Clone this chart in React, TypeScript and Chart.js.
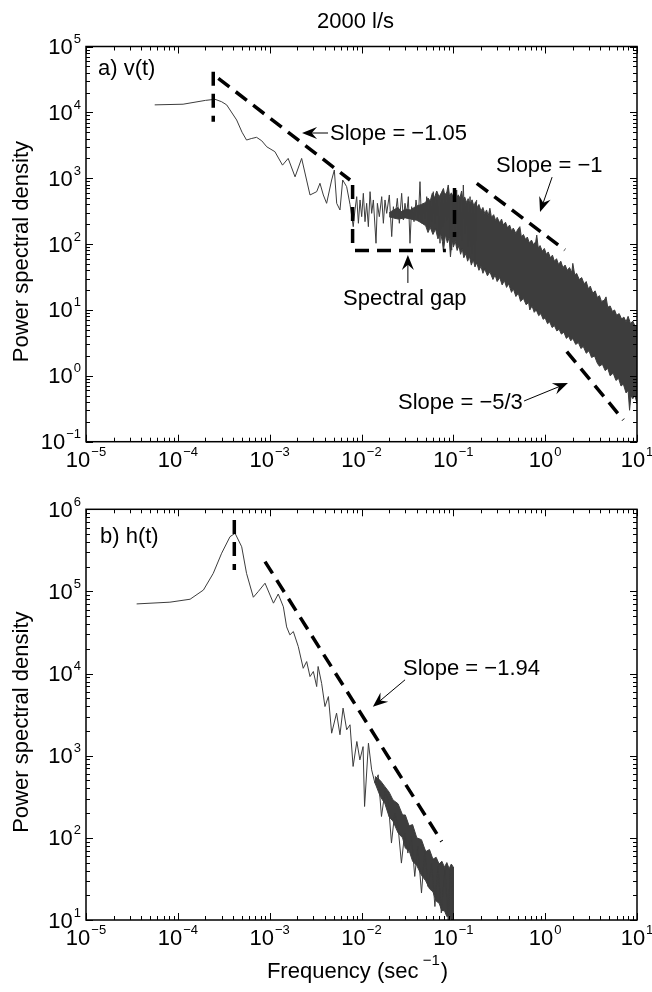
import React, { useEffect, useRef } from "react";
import { Chart, registerables } from "chart.js";

Chart.register(...registerables);

const FONT = "'Liberation Sans', Arial, Helvetica, sans-serif";

// ---------------- tick exponents ----------------
const freqTickExps = [-5, -4, -3, -2, -1, 0, 1];
const vPsdTickExps = [-1, 0, 1, 2, 3, 4, 5];
const hPsdTickExps = [1, 2, 3, 4, 5, 6];

// ---------------- panel a) v(t) ----------------
const vLowFreq = [5.6e-5, 1.14e-4, 1.5e-4, 2.0e-4, 2.54e-4, 3.0e-4, 3.4e-4, 4.37e-4, 5.0e-4, 5.6e-4, 6.3e-4, 7.2e-4, 8.2e-4, 9.3e-4, 1.14e-3, 1.38e-3, 1.59e-3, 1.89e-3, 2.23e-3, 2.75e-3, 3.25e-3, 3.53e-3, 3.84e-3, 4.17e-3, 4.73e-3, 5.06e-3, 5.37e-3, 5.83e-3, 6.24e-3, 6.89e-3, 7.5e-3, 8.13e-3];
const vLowPsd = [1.3e4, 1.33e4, 1.42e4, 1.52e4, 1.58e4, 1.45e4, 1.3e4, 7.66e3, 5.0e3, 3.8e3, 4.0e3, 4.18e3, 3.7e3, 3.0e3, 2.53e3, 1.58e3, 2.0e3, 1.05e3, 2.0e3, 557, 625, 838, 557, 416, 940, 1333, 416, 330, 940, 745, 400, 184];

const vMidFreq = [0.00849, 0.00887, 0.00925, 0.00964, 0.01005, 0.01047, 0.01092, 0.01138, 0.01188, 0.01239, 0.01291, 0.01346, 0.01439, 0.01489, 0.01564, 0.0166, 0.0173, 0.01803, 0.0188, 0.0201, 0.02133, 0.02223, 0.02317, 0.02455, 0.02582, 0.02737, 0.02855, 0.02976, 0.03103, 0.03236, 0.03373, 0.03516, 0.03732, 0.03924, 0.04159, 0.04335, 0.04519, 0.0471, 0.0492, 0.0513, 0.0535, 0.0557, 0.0581, 0.0605, 0.0631, 0.0659, 0.0687, 0.0716, 0.0746, 0.0778, 0.0811, 0.0846, 0.0882, 0.092, 0.096, 0.1, 0.1042, 0.1087, 0.1134, 0.1183, 0.1233, 0.1285, 0.134, 0.1396, 0.1456, 0.152, 0.1585, 0.165, 0.172, 0.1795];
const vMidPsd = [330, 525, 207, 468, 261, 590, 219, 416, 184, 625, 293, 468, 103, 416, 261, 525, 207, 468, 293, 557, 130, 370, 246, 495, 207, 590, 232, 416, 277, 525, 103, 370, 219, 468, 246, 887, 207, 416, 246, 525, 184, 441, 219, 625, 207, 468, 293, 103, 495, 184, 590, 232, 703, 164, 81, 525, 146, 663, 130, 468, 115, 789, 146, 416, 91, 525, 72, 370, 57, 468];

const vBandUpperFreq = [0.02, 0.025, 0.027, 0.03, 0.034, 0.04, 0.045, 0.05, 0.053, 0.056, 0.059, 0.062, 0.066, 0.07, 0.074, 0.078, 0.081, 0.085, 0.088, 0.091, 0.095, 0.1, 0.104, 0.108, 0.113, 0.118, 0.123, 0.127, 0.133, 0.139, 0.145, 0.152, 0.16, 0.167, 0.175, 0.183, 0.19, 0.2, 0.21, 0.22, 0.23, 0.24, 0.25, 0.26, 0.275, 0.29, 0.3, 0.32, 0.335, 0.35, 0.37, 0.39, 0.41, 0.43, 0.45, 0.48, 0.5, 0.53, 0.55, 0.58, 0.61, 0.64, 0.67, 0.71, 0.75, 0.79, 0.81, 0.84, 0.88, 0.93, 0.98, 1.03, 1.08, 1.14, 1.2, 1.26, 1.33, 1.4, 1.48, 1.56, 1.65, 1.74, 1.84, 1.95, 2.0, 2.1, 2.2, 2.35, 2.5, 2.65, 2.8, 2.95, 3.1, 3.3, 3.5, 3.7, 3.9, 4.1, 4.4, 4.6, 4.8, 5.1, 5.4, 5.7, 6.0, 6.4, 6.8, 7.2, 7.6, 8.0, 8.5, 9.0, 9.5, 10];
const vBandUpperPsd = [300, 360, 310, 340, 330, 380, 400, 430, 500, 450, 590, 500, 640, 520, 600, 700, 540, 620, 790, 530, 600, 520, 610, 480, 560, 500, 640, 470, 520, 430, 490, 410, 470, 380, 440, 360, 400, 320, 360, 290, 330, 270, 350, 255, 280, 225, 255, 210, 240, 195, 215, 175, 195, 160, 175, 145, 165, 184, 130, 140, 118, 128, 105, 115, 97, 110, 137, 88, 95, 78, 86, 70, 76, 62, 68, 55, 60, 49, 55, 44, 48, 40, 44, 37, 51, 34, 36, 29, 31, 25, 27, 21, 23, 18, 19.5, 15.5, 16.5, 13.5, 14, 15.8, 11, 11.5, 9.5, 10, 8.3, 8.8, 7.3, 7.8, 6.6, 8, 6.2, 6.8, 5.7, 5.8];
const vBandLowerFreq = [0.02, 0.025, 0.03, 0.04, 0.045, 0.05, 0.053, 0.056, 0.06, 0.064, 0.068, 0.072, 0.076, 0.078, 0.082, 0.086, 0.09, 0.093, 0.097, 0.1, 0.105, 0.11, 0.115, 0.12, 0.125, 0.13, 0.137, 0.143, 0.15, 0.157, 0.165, 0.172, 0.18, 0.19, 0.2, 0.21, 0.22, 0.235, 0.25, 0.27, 0.285, 0.3, 0.32, 0.34, 0.36, 0.38, 0.4, 0.43, 0.45, 0.48, 0.51, 0.54, 0.58, 0.62, 0.66, 0.68, 0.72, 0.76, 0.8, 0.85, 0.9, 0.95, 1.0, 1.06, 1.12, 1.19, 1.26, 1.34, 1.42, 1.5, 1.6, 1.7, 1.8, 1.9, 2.0, 2.15, 2.3, 2.45, 2.6, 2.8, 3.0, 3.2, 3.45, 3.7, 3.9, 4.2, 4.5, 4.8, 5.1, 5.5, 5.9, 6.3, 6.7, 7.1, 7.6, 8.0, 8.3, 8.6, 9.0, 9.5, 10];
const vBandLowerPsd = [260, 240, 250, 230, 210, 190, 150, 180, 140, 170, 120, 150, 110, 77, 140, 105, 125, 64, 120, 90, 110, 80, 95, 70, 85, 62, 72, 55, 65, 48, 58, 45, 52, 40, 46, 36, 42, 33, 38, 29, 34, 27, 31, 24, 28, 22, 25, 18.5, 21, 16, 18, 13.5, 15, 12, 13, 10, 11.5, 9.2, 10, 8.2, 8.8, 7.2, 7.6, 6.2, 6.6, 5.4, 5.8, 4.8, 5.1, 4.3, 4.6, 3.7, 4.0, 3.4, 3.7, 3.0, 3.2, 2.6, 2.8, 2.2, 2.4, 1.9, 2.0, 1.55, 1.4, 1.5, 1.2, 1.3, 1.0, 1.1, 0.85, 0.92, 0.7, 0.75, 0.55, 0.6, 0.3, 0.5, 0.45, 0.5, 0.38];

const vPeakMarkFreq = [2.43e-4, 2.43e-4];
const vPeakMarkPsd = [4.14e4, 7.2e3];
const vSlope105Freq = [2.76e-4, 7.5e-3];
const vSlope105Psd = [3.29e4, 940];
const vGapLeftFreq = [8.0e-3, 8.0e-3];
const vGapLeftPsd = [789, 100];
const vGapBaseFreq = [8.5e-3, 0.083];
const vGapBasePsd = [80, 80];
const vGapRightFreq = [0.103, 0.103];
const vGapRightPsd = [711, 128];
const vSlope1Freq = [0.18, 1.64];
const vSlope1Psd = [838, 81.5];
const vSlope53Freq = [1.72, 7.1];
const vSlope53Psd = [2.33, 0.214];

// ---------------- panel b) h(t) ----------------
const hLowFreq = [3.56e-5, 8.2e-5, 1.36e-4, 1.9e-4, 2.43e-4, 3.0e-4, 3.7e-4, 4.2e-4, 4.96e-4, 5.6e-4, 6.64e-4, 7.5e-4, 8.9e-4, 1.1e-3, 1.24e-3, 1.41e-3, 1.53e-3, 1.66e-3, 1.81e-3, 2.05e-3, 2.32e-3, 2.53e-3, 2.75e-3, 2.99e-3, 3.25e-3, 3.37e-3, 3.68e-3, 4.0e-3, 4.36e-3];
const hLowPsd = [7.05e4, 7.4e4, 8.04e4, 1.04e5, 1.66e5, 2.92e5, 4.64e5, 5.1e5, 3.5e5, 1.66e5, 8.5e4, 9.95e4, 1.26e5, 7.2e4, 9.3e4, 6.5e4, 3.7e4, 2.96e4, 3.25e4, 2.13e4, 1.16e4, 1.4e4, 9.2e3, 1.06e4, 6.95e3, 1.22e4, 7.6e3, 3.97e3, 5.25e3];
const hHighFreq = [4.73e-3, 5.35e-3, 5.83e-3, 6.3e-3, 6.9e-3, 7.5e-3, 8.1e-3, 8.9e-3, 9.6e-3, 1.04e-2, 1.08e-2, 1.19e-2, 1.29e-2, 1.4e-2, 1.52e-2, 1.65e-2, 1.8e-2, 1.95e-2, 2.12e-2, 2.3e-2, 2.5e-2, 2.72e-2, 2.95e-2, 3.2e-2, 3.5e-2, 3.8e-2, 4.1e-2, 4.5e-2, 4.9e-2, 5.3e-2, 5.8e-2, 6.3e-2, 6.8e-2, 7.4e-2, 8.1e-2, 8.8e-2, 9.3e-2, 9.8e-2, 0.1];
const hHighPsd = [1.88e3, 3.3e3, 1.8e3, 3.8e3, 2.07e3, 2.38e3, 740, 1.49e3, 890, 1.29e3, 241, 1.42e3, 673, 464, 586, 182, 366, 290, 86.5, 200, 138, 49.3, 114, 65.3, 104, 33.9, 78.5, 21.3, 71.6, 25.6, 49.3, 14.6, 44.9, 12.2, 40.9, 10, 44.9, 17.7, 10];
const hBandFreq = [0.014, 0.016, 0.018, 0.02, 0.022, 0.025, 0.028, 0.03, 0.033, 0.036, 0.04, 0.045, 0.05, 0.055, 0.06, 0.065, 0.07, 0.075, 0.08, 0.085, 0.09, 0.095, 0.1];
const hBandUpperPsd = [560, 500, 420, 360, 290, 260, 190, 190, 140, 145, 100, 95, 68, 72, 55, 58, 48, 52, 44, 50, 42, 48, 44];
const hBandLowerPsd = [470, 320, 260, 180, 160, 115, 100, 75, 70, 52, 46, 35, 30, 24, 22, 17, 16, 13, 13, 11, 11.5, 10, 10];

const hPeakMarkFreq = [4.12e-4, 4.12e-4];
const hPeakMarkPsd = [7.4e5, 1.83e5];
const hSlope194Freq = [8.9e-4, 0.0746];
const hSlope194Psd = [2.31e5, 90.4];

// ---------------- annotations (data coordinates) ----------------
type Note = { text: string; f: number; p: number; arrow?: [number, number, number, number] };
const vNotes: Note[] = [
  { text: "a) v(t)", f: 1.35e-5, p: 3.69e4 },
  { text: "Slope = \u22121.05", f: 4.54e-3, p: 3.8e3, arrow: [4.32e-3, 4.86e3, 2.25e-3, 4.86e3] },
  { text: "Slope = \u22121", f: 0.292, p: 1.24e3, arrow: [1.19, 1.04e3, 0.879, 307] },
  { text: "Spectral gap", f: 6.3e-3, p: 11.9, arrow: [0.032, 25.7, 0.032, 68.4] },
  { text: "Slope = \u22125/3", f: 0.025, p: 0.314, arrow: [0.589, 0.415, 1.77, 0.778] },
];
const hNotes: Note[] = [
  { text: "b) h(t)", f: 1.42e-5, p: 3.89e5 },
  { text: "Slope = \u22121.94", f: 0.0283, p: 9.6e3, arrow: [0.0298, 8.4e3, 0.0133, 3.94e3] },
];

// ---------------- helpers ----------------
type XY = { x: number; y: number };
const pts = (f: number[], p: number[]): XY[] => f.map((v, i) => ({ x: v, y: p[i] }));
const shape = (uf: number[], up: number[], lf: number[], lp: number[]): XY[] => [
  ...pts(uf, up),
  ...pts(lf, lp).reverse(),
];

const CURVE = "#3c3c3c";
const BAND = "#3d3d3d";

const curve = (data: XY[]) => ({
  data, showLine: true, borderColor: CURVE, borderWidth: 1, pointRadius: 0,
  fill: false, borderJoinStyle: "bevel", tension: 0,
});
const band = (data: XY[]) => ({
  data, showLine: true, borderColor: BAND, backgroundColor: BAND, borderWidth: 1,
  pointRadius: 0, fill: "shape", borderJoinStyle: "bevel", tension: 0,
});
const dashed = (data: XY[]) => ({
  data, showLine: true, borderColor: "#000", borderWidth: 3.5, borderDash: [14, 8],
  pointRadius: 0, fill: false, borderCapStyle: "butt", tension: 0,
});

function drawPow(ctx: CanvasRenderingContext2D, x: number, y: number, exp: number, align: "center" | "right") {
  const sup = exp < 0 ? "\u2212" + -exp : String(exp);
  ctx.font = `22px ${FONT}`;
  const wb = ctx.measureText("10").width;
  ctx.font = `13px ${FONT}`;
  const ws = ctx.measureText(sup).width;
  const total = wb + 1 + ws;
  const x0 = align === "center" ? x - total / 2 : x - total;
  ctx.textAlign = "left";
  ctx.textBaseline = "alphabetic";
  ctx.font = `22px ${FONT}`;
  ctx.fillText("10", x0, y);
  ctx.font = `13px ${FONT}`;
  ctx.fillText(sup, x0 + wb + 1, y - 11);
}

function drawArrow(ctx: CanvasRenderingContext2D, x1: number, y1: number, x2: number, y2: number) {
  const dx = x2 - x1, dy = y2 - y1;
  const L = Math.hypot(dx, dy) || 1;
  const ux = dx / L, uy = dy / L, nx = -uy, ny = ux;
  const hl = 15, hw = 6;
  ctx.lineWidth = 1;
  ctx.beginPath();
  ctx.moveTo(x1, y1);
  ctx.lineTo(x2 - ux * hl * 0.6, y2 - uy * hl * 0.6);
  ctx.stroke();
  const bx = x2 - ux * hl, by = y2 - uy * hl;
  ctx.beginPath();
  ctx.moveTo(x2, y2);
  ctx.lineTo(bx + nx * hw, by + ny * hw);
  ctx.lineTo(x2 - ux * hl * 0.65, y2 - uy * hl * 0.65);
  ctx.lineTo(bx - nx * hw, by - ny * hw);
  ctx.closePath();
  ctx.fill();
}

type Panel = {
  yExps: number[];
  notes: Note[];
  title?: string;
  xlabel?: boolean;
};

function makeAxesPlugin(panel: Panel) {
  return {
    id: "matlabAxes",
    afterDraw(chart: any) {
      const ctx: CanvasRenderingContext2D = chart.ctx;
      const xs = chart.scales.x;
      const ys = chart.scales.y;
      const { left, right, top, bottom } = chart.chartArea;
      const X = (v: number) => xs.getPixelForValue(v);
      const Y = (v: number) => ys.getPixelForValue(v);
      ctx.save();
      ctx.fillStyle = "#000";
      ctx.strokeStyle = "#000";
      ctx.lineWidth = 1;
      ctx.beginPath();
      const xe = freqTickExps;
      for (let e = xe[0]; e <= xe[xe.length - 1]; e++) {
        for (let k = 1; k <= 9; k++) {
          if (e === xe[xe.length - 1] && k > 1) break;
          const px = Math.round(X(k * Math.pow(10, e))) + 0.5;
          const len = k === 1 ? 7 : 4;
          ctx.moveTo(px, bottom);
          ctx.lineTo(px, bottom - len);
          ctx.moveTo(px, top);
          ctx.lineTo(px, top + len);
        }
      }
      const ye = panel.yExps;
      for (let e = ye[0]; e <= ye[ye.length - 1]; e++) {
        for (let k = 1; k <= 9; k++) {
          if (e === ye[ye.length - 1] && k > 1) break;
          const py = Math.round(Y(k * Math.pow(10, e))) + 0.5;
          const len = k === 1 ? 7 : 4;
          ctx.moveTo(left, py);
          ctx.lineTo(left + len, py);
          ctx.moveTo(right, py);
          ctx.lineTo(right - len, py);
        }
      }
      ctx.stroke();
      ctx.lineWidth = 1.5;
      ctx.strokeRect(left, top, right - left, bottom - top);

      xe.forEach((e) => drawPow(ctx, X(Math.pow(10, e)), bottom + 25, e, "center"));
      ye.forEach((e) => drawPow(ctx, left - 5, Y(Math.pow(10, e)) + 7.5, e, "right"));

      // y-axis title
      ctx.save();
      ctx.font = `22px ${FONT}`;
      ctx.textAlign = "center";
      ctx.textBaseline = "alphabetic";
      ctx.translate(28, (top + bottom) / 2 + 7.5);
      ctx.rotate(-Math.PI / 2);
      ctx.fillText("Power spectral density", 0, 0);
      ctx.restore();

      // annotations
      ctx.textAlign = "left";
      ctx.textBaseline = "alphabetic";
      panel.notes.forEach((n) => {
        ctx.font = `22px ${FONT}`;
        ctx.fillText(n.text, X(n.f), Y(n.p));
        if (n.arrow) {
          const [f1, p1, f2, p2] = n.arrow;
          drawArrow(ctx, X(f1), Y(p1), X(f2), Y(p2));
        }
      });

      if (panel.title) {
        ctx.font = `22px ${FONT}`;
        ctx.textAlign = "center";
        ctx.fillText(panel.title, (left + right) / 2 - 6, 28);
      }
      if (panel.xlabel) {
        const main = "Frequency (sec ";
        const sup = "\u22121";
        const close = ")";
        ctx.font = `22px ${FONT}`;
        const w1 = ctx.measureText(main).width;
        const w3 = ctx.measureText(close).width;
        ctx.font = `15px ${FONT}`;
        const w2 = ctx.measureText(sup).width;
        const total = w1 - 2 + w2 + 1 + w3;
        const x0 = (left + right) / 2 - 4 - total / 2;
        const base = bottom + 58;
        ctx.textAlign = "left";
        ctx.font = `22px ${FONT}`;
        ctx.fillText(main, x0, base);
        ctx.font = `15px ${FONT}`;
        ctx.fillText(sup, x0 + w1 - 2, base - 13);
        ctx.font = `22px ${FONT}`;
        ctx.fillText(close, x0 + w1 - 2 + w2 + 1, base);
      }
      ctx.restore();
    },
  };
}

function makeConfig(datasets: any[], yMin: number, yMax: number, padding: any, panel: Panel): any {
  return {
    type: "scatter",
    data: { datasets },
    options: {
      responsive: false,
      maintainAspectRatio: false,
      animation: false,
      devicePixelRatio: 1,
      events: [],
      layout: { padding },
      plugins: { legend: { display: false }, tooltip: { enabled: false }, title: { display: false } },
      scales: {
        x: { type: "logarithmic", min: 1e-5, max: 10, display: false },
        y: { type: "logarithmic", min: yMin, max: yMax, display: false },
      },
    },
    plugins: [makeAxesPlugin(panel)],
  };
}

export default function App() {
  const topRef = useRef<HTMLCanvasElement>(null);
  const botRef = useRef<HTMLCanvasElement>(null);

  useEffect(() => {
    const topDatasets = [
      dashed(pts(vPeakMarkFreq, vPeakMarkPsd)),
      dashed(pts(vSlope105Freq, vSlope105Psd)),
      dashed(pts(vGapLeftFreq, vGapLeftPsd)),
      dashed(pts(vGapBaseFreq, vGapBasePsd)),
      dashed(pts(vGapRightFreq, vGapRightPsd)),
      dashed(pts(vSlope1Freq, vSlope1Psd)),
      dashed(pts(vSlope53Freq, vSlope53Psd)),
      curve([...pts(vLowFreq, vLowPsd), ...pts(vMidFreq, vMidPsd)]),
      band(shape(vBandUpperFreq, vBandUpperPsd, vBandLowerFreq, vBandLowerPsd)),
    ];
    const botDatasets = [
      dashed(pts(hPeakMarkFreq, hPeakMarkPsd)),
      dashed(pts(hSlope194Freq, hSlope194Psd)),
      curve([...pts(hLowFreq, hLowPsd), ...pts(hHighFreq, hHighPsd)]),
      band(shape(hBandFreq, hBandUpperPsd, hBandFreq, hBandLowerPsd)),
    ];
    const c1 = new Chart(
      topRef.current as HTMLCanvasElement,
      makeConfig(topDatasets, 0.1, 1e5, { left: 86, right: 15, top: 46.5, bottom: 48.3 }, {
        yExps: vPsdTickExps, notes: vNotes, title: "2000 l/s",
      })
    );
    const c2 = new Chart(
      botRef.current as HTMLCanvasElement,
      makeConfig(botDatasets, 10, 1e6, { left: 86, right: 15, top: 19.3, bottom: 72 }, {
        yExps: hPsdTickExps, notes: hNotes, xlabel: true,
      })
    );
    return () => {
      c1.destroy();
      c2.destroy();
    };
  }, []);

  return (
    <div style={{ position: "absolute", left: 0, top: 0, width: 652, height: 992, background: "#fff" }}>
      <canvas ref={topRef} width={652} height={490} style={{ position: "absolute", left: 0, top: 0, width: 652, height: 490 }} />
      <canvas ref={botRef} width={652} height={502} style={{ position: "absolute", left: 0, top: 490, width: 652, height: 502 }} />
    </div>
  );
}
